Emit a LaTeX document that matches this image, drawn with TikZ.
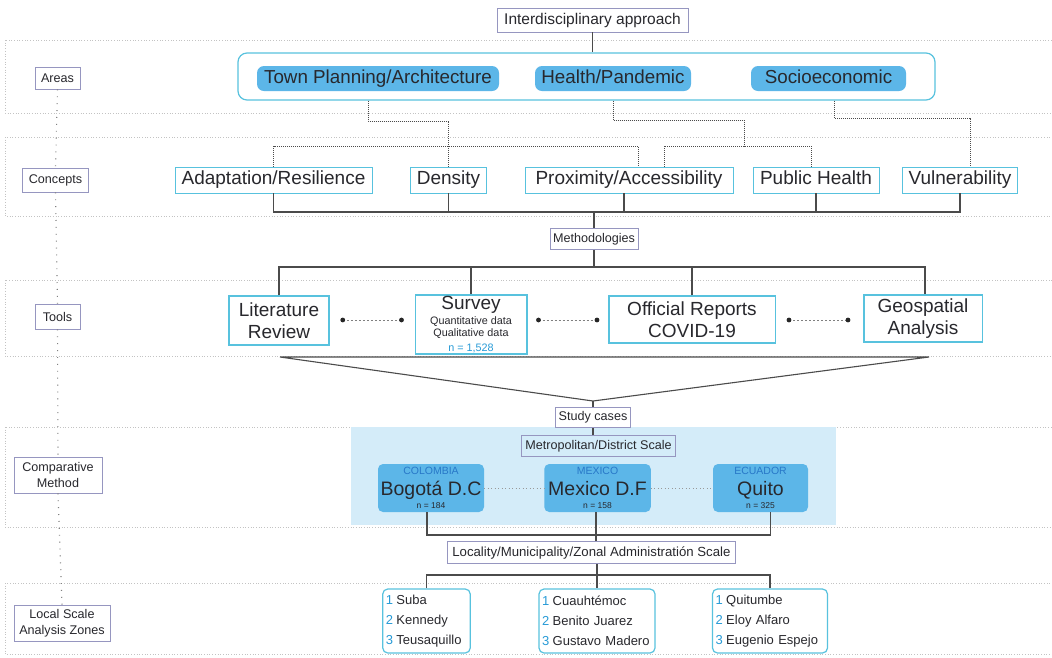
\documentclass[tikz,border=0pt]{standalone}
\usepackage{fontspec}
\setmainfont{Liberation Sans}
\definecolor{cyanb}{RGB}{88,194,222}
\definecolor{pill}{RGB}{92,182,232}
\definecolor{bgblue}{RGB}{212,236,249}
\definecolor{labc}{RGB}{150,150,192}
\definecolor{txt}{RGB}{40,40,45}
\definecolor{lnc}{RGB}{75,75,75}
\definecolor{numb}{RGB}{40,155,215}
\definecolor{ctry}{RGB}{40,120,200}
\definecolor{bandc}{RGB}{195,195,195}
\tikzset{
  labbox/.style={draw=labc, line width=0.8, fill=white, inner sep=0, align=center, text=txt, font=\fontsize{12.6}{15.5}\selectfont},
  pillbox/.style={fill=pill, rounded corners=7, inner sep=0, minimum height=25, text height=13.5, text depth=3.8, text=txt, font=\fontsize{18.8}{20}\selectfont},
  cbox/.style={draw=cyanb, line width=0.8, fill=white, inner sep=0, minimum height=26, text height=13.7, text depth=3.9, text=txt, font=\fontsize{19}{21}\selectfont},
  tbox/.style={draw=cyanb, line width=1.5, fill=white, inner sep=0, align=center, text=txt, font=\fontsize{19}{22.5}\selectfont},
  citybox/.style={fill=pill, rounded corners=5, inner sep=0, minimum height=48, align=center, text=txt, font=\fontsize{8.5}{10}\selectfont},
  lstbox/.style={draw=cyanb, line width=1.2, rounded corners=5, fill=white, inner xsep=3, inner ysep=0, minimum height=64, align=left, text=txt, font=\fontsize{13}{20}\selectfont},
  band/.style={draw=bandc, dotted, line width=0.7},
  vdot/.style={draw=gray, line width=1.1, dash pattern=on 0.9pt off 6pt},
  dotc/.style={draw=lnc, densely dotted, line width=1.0},
  conn/.style={draw=lnc, line width=1.1},
  tdash/.style={draw=gray, dash pattern=on 2pt off 2pt, line width=0.8},
  cdot/.style={draw=gray!80, dash pattern=on 1pt off 2.5pt, line width=0.9},
}
\newcommand{\nb}[1]{\textcolor{numb}{#1}\hspace{3.5pt}}
\begin{document}
\begin{tikzpicture}[x=1pt,y=-1pt]
\useasboundingbox (0,0) rectangle (1052,657);
\fill[white] (0,0) rectangle (1052,657);
% bands
\draw[band] (5,40) rectangle (1060,113);
\draw[band] (5,137) rectangle (1060,216);
\draw[band] (5,280) rectangle (1060,356);
\draw[band] (5,427) rectangle (1060,527);
\draw[band] (5,583) rectangle (1060,654);
\fill[bgblue] (351,427) rectangle (836,524.5);

% left labels
\node[labbox, minimum width=45, minimum height=22] (lAreas) at (57.5,78) {Areas};
\node[labbox, minimum width=66, minimum height=24] (lConc) at (55.5,180) {Concepts};
\node[labbox, minimum width=45, minimum height=25] (lTools) at (57.5,316.5) {Tools};
\node[labbox, minimum width=88, minimum height=36] (lComp) at (58,475) {Comparative\\Method};
\node[labbox, minimum width=96, minimum height=36] (lLoc) at (62,623) {Local Scale\\Analysis Zones};
\draw[vdot] (lAreas.south) -- (lConc.north);
\draw[vdot] (lConc.south) -- (lTools.north);
\draw[vdot] (lTools.south) -- (lComp.north);
\draw[vdot] (lComp.south) -- (lLoc.north);

% top
\node[labbox, minimum width=191, minimum height=24, font=\fontsize{15.5}{17}\selectfont] (inter) at (592.5,20) {Interdisciplinary approach};
\node[draw=cyanb, line width=1.2, rounded corners=9, minimum width=697, minimum height=47, inner sep=0] (abox) at (586.5,76.5) {};
\draw[conn] (inter.south) -- (inter.south |- abox.north);
\node[pillbox, minimum width=242] (tp) at (378,78.5) {Town Planning/Architecture};
\node[pillbox, minimum width=156] (hp) at (613,78.5) {Health/Pandemic};
\node[pillbox, minimum width=155] (se) at (828.5,78.5) {Socioeconomic};

% concepts
\node[cbox, minimum width=197] (adapt) at (273.5,180) {Adaptation/Resilience};
\node[cbox, minimum width=76] (dens) at (448.5,180) {Density};
\node[cbox, minimum width=208] (prox) at (629,180) {Proximity/Accessibility};
\node[cbox, minimum width=126] (ph) at (816,180) {Public Health};
\node[cbox, minimum width=115] (vul) at (960,180) {Vulnerability};

% area -> concept connectors
\draw[dotc] ([xshift=-10]tp.south |- abox.south) -- ([xshift=-10]tp.south |- 0,121) -- (dens.north |- 0,121) -- (dens.north);
\draw[dotc] (adapt.north) -- (adapt.north |- 0,146) -- ([xshift=9]prox.north |- 0,146) -- ([xshift=9]prox.north);
\draw[dotc] (hp.south |- abox.south) -- (hp.south |- 0,120) -- (744,120) coordinate (hj) -- (hj |- 0,146);
\draw[dotc] ([xshift=35]prox.north) -- ([xshift=35]prox.north |- 0,146) -- ([xshift=-5]ph.north |- 0,146) -- ([xshift=-5]ph.north);
\draw[dotc] ([xshift=6]se.south |- abox.south) -- ([xshift=6]se.south |- 0,118) -- ([xshift=10]vul.north |- 0,118) -- ([xshift=10]vul.north);

% concept -> methodologies
\node[labbox, minimum width=88, minimum height=21] (meth) at (594,239) {Methodologies};
\draw[conn] (adapt.south) -- (adapt.south |- 0,212) -- (vul.south |- 0,212) -- (vul.south);
\draw[conn] (dens.south) -- (dens.south |- 0,212);
\draw[conn] ([xshift=-5]prox.south) -- ([xshift=-5]prox.south |- 0,212);
\draw[conn] (ph.south) -- (ph.south |- 0,212);
\draw[conn] (meth.north |- 0,212) -- (meth.north);

% tools
\node[tbox, minimum width=100, minimum height=49] (lit) at (279,320.5) {Literature\\Review};
\node[tbox, minimum width=111.5, minimum height=59, font=\fontsize{10.8}{12}\selectfont] (surv) at (471,324.5) {{\fontsize{19}{19}\selectfont Survey}\\[3.5pt]Quantitative data\\Qualitative data\\[2.5pt]\textcolor{numb}{n = 1,528}};
\node[tbox, minimum width=166.5, minimum height=47] (off) at (692,319.5) {Official Reports\\COVID-19};
\node[tbox, minimum width=118.5, minimum height=47] (geo) at (923,318.5) {Geospatial\\Analysis};
\draw[conn] (meth.south) -- (meth.south |- 0,267);
\draw[conn] (lit.north) -- (lit.north |- 0,267) -- ([xshift=2]geo.north |- 0,267) -- ([xshift=2]geo.north);
\draw[conn] (surv.north) -- (surv.north |- 0,267);
\draw[conn] (off.north) -- (off.north |- 0,267);

\draw[tdash] ([xshift=13]lit.east |- 0,320) coordinate (d1) -- ([xshift=-13]surv.west |- 0,320) coordinate (d2);
\draw[tdash] ([xshift=11]surv.east |- 0,320) coordinate (d3) -- ([xshift=-11]off.west |- 0,320) coordinate (d4);
\draw[tdash] ([xshift=13]off.east |- 0,320) coordinate (d5) -- ([xshift=-15]geo.west |- 0,320) coordinate (d6);
\fill[black!85] (d1) circle (2.4) (d2) circle (2.4) (d3) circle (2.4) (d4) circle (2.4) (d5) circle (2.4) (d6) circle (2.4);

% funnel
\node[labbox, minimum width=75, minimum height=20] (study) at (593,417.7) {Study cases};
\draw[conn] ([xshift=1]lit.south |- 0,357) -- ([xshift=6]geo.south |- 0,357) -- (study.north |- 0,401) -- cycle;
\draw[conn] (study.north |- 0,401) -- (study.north);

% comparative
\node[labbox, fill=bgblue, minimum width=154, minimum height=21] (metro) at (598.5,446) {Metropolitan/District Scale};
\draw[conn] (study.south) -- (study.south |- metro.north);
\node[citybox, minimum width=106] (bog) at (431,488) {{\fontsize{10.5}{11}\selectfont\color{ctry}COLOMBIA}\\[6pt]{\fontsize{19.5}{17}\selectfont Bogotá D.C}\\[3pt]n = 184};
\node[citybox, minimum width=106.5] (mex) at (597.5,488) {{\fontsize{10.5}{11}\selectfont\color{ctry}MEXICO}\\[6pt]{\fontsize{19.5}{17}\selectfont Mexico D.F}\\[3pt]n = 158};
\node[citybox, minimum width=95] (qui) at (760.5,488) {{\fontsize{10.5}{11}\selectfont\color{ctry}ECUADOR}\\[6pt]{\fontsize{19.5}{17}\selectfont Quito}\\[3pt]n = 325};
\draw[cdot] (bog.east) -- (mex.west);
\draw[cdot] (mex.east) -- (qui.west);

\node[labbox, minimum width=288, minimum height=22, font=\fontsize{13.2}{15}\selectfont] (loc) at (591.4,552.6) {Locality/Municipality/Zonal Administratión Scale};
\draw[conn] ([xshift=-4]bog.south) -- ([xshift=-4]bog.south |- 0,535) -- ([xshift=10]qui.south |- 0,535) -- ([xshift=10]qui.south);
\draw[conn] ([xshift=-1.5]mex.south) -- ([xshift=-1.5]mex.south |- loc.north);

% lists
\node[lstbox, text width=81.5] (l1) at (426.5,621) {\nb{1}Suba\\\nb{2}Kennedy\\\nb{3}Teusaquillo};
\node[lstbox, text width=110] (l2) at (597,621) {\nb{1}Cuauhtémoc\\\nb{2}Benito Juarez\\\nb{3}Gustavo Madero};
\node[lstbox, text width=109] (l3) at (770,621) {\nb{1}Quitumbe\\\nb{2}Eloy Alfaro\\\nb{3}Eugenio Espejo};
\draw[conn] (l2.north |- loc.south) -- (l2.north |- 0,575);
\draw[conn] (l1.north) -- (l1.north |- 0,575) -- (l3.north |- 0,575) -- (l3.north);
\draw[conn] (l2.north |- 0,575) -- (l2.north);
\end{tikzpicture}
\end{document}
